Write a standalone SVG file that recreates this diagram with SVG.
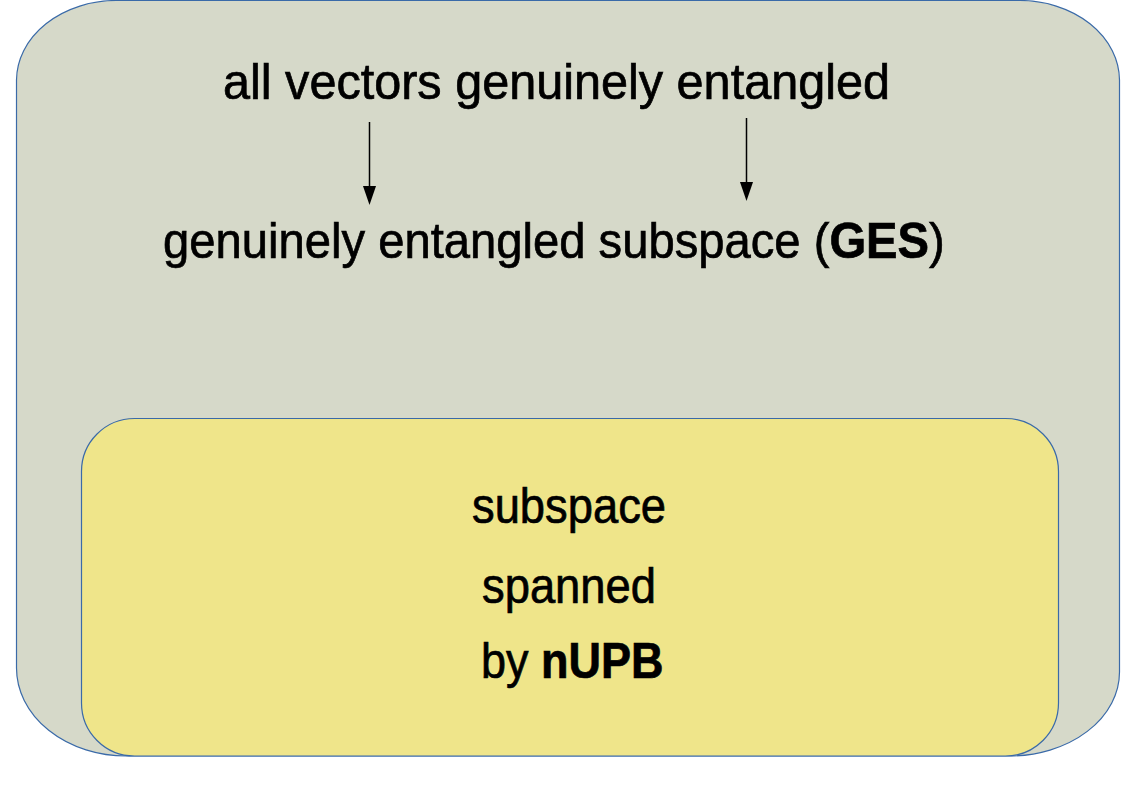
<svg xmlns="http://www.w3.org/2000/svg" width="1123" height="794" viewBox="0 0 1123 794">
  <defs>
    <style>
      .t { font-family: "Liberation Sans", Arial, sans-serif; font-size: 50px; fill: #000; stroke: #000; stroke-width: 0.7; }
      .b { font-weight: bold; }
      .arrow { stroke: #000; stroke-width: 1.5; fill: none; }
      .head { fill: #000; stroke: none; }
    </style>
  </defs>
  <rect width="1123" height="794" fill="#fff"/>
  <g id="outer">
    <path d="M16.5,80 A100,80 0 0 1 116.5,0.5 L1019.5,0.5 A100,80 0 0 1 1119.5,80 L1119.5,672 A110,84 0 0 1 1009.5,756 L126.5,756 A110,88 0 0 1 16.5,668 Z" fill="#D6D9C9" stroke="#3A6AA8" stroke-width="1.2"/>
    <text class="t" x="223" y="99" textLength="667" lengthAdjust="spacingAndGlyphs">all vectors genuinely entangled</text>
    <text class="t" transform="translate(163,258) scale(0.944,1)">genuinely entangled subspace (<tspan class="b">GES</tspan>)</text>
  </g>
  <g id="inner">
    <rect x="81.5" y="418.5" width="977" height="337.5" rx="53" ry="53" fill="#EFE58A" stroke="#3A6AA8" stroke-width="1.2"/>
    <text class="t" x="472" y="523" textLength="194" lengthAdjust="spacingAndGlyphs">subspace</text>
    <text class="t" x="482" y="603" textLength="174" lengthAdjust="spacingAndGlyphs">spanned</text>
    <text class="t" transform="translate(481,678) scale(0.9,1)">by <tspan class="b">nUPB</tspan></text>
  </g>
  <g id="connectors">
    <line class="arrow" x1="369.5" y1="122" x2="369.5" y2="190"/>
    <path class="head" d="M363,186 L376,186 L369.5,205 Z"/>
    <line class="arrow" x1="746.5" y1="118" x2="746.5" y2="186"/>
    <path class="head" d="M740,182 L753,182 L746.5,201 Z"/>
  </g>
</svg>
